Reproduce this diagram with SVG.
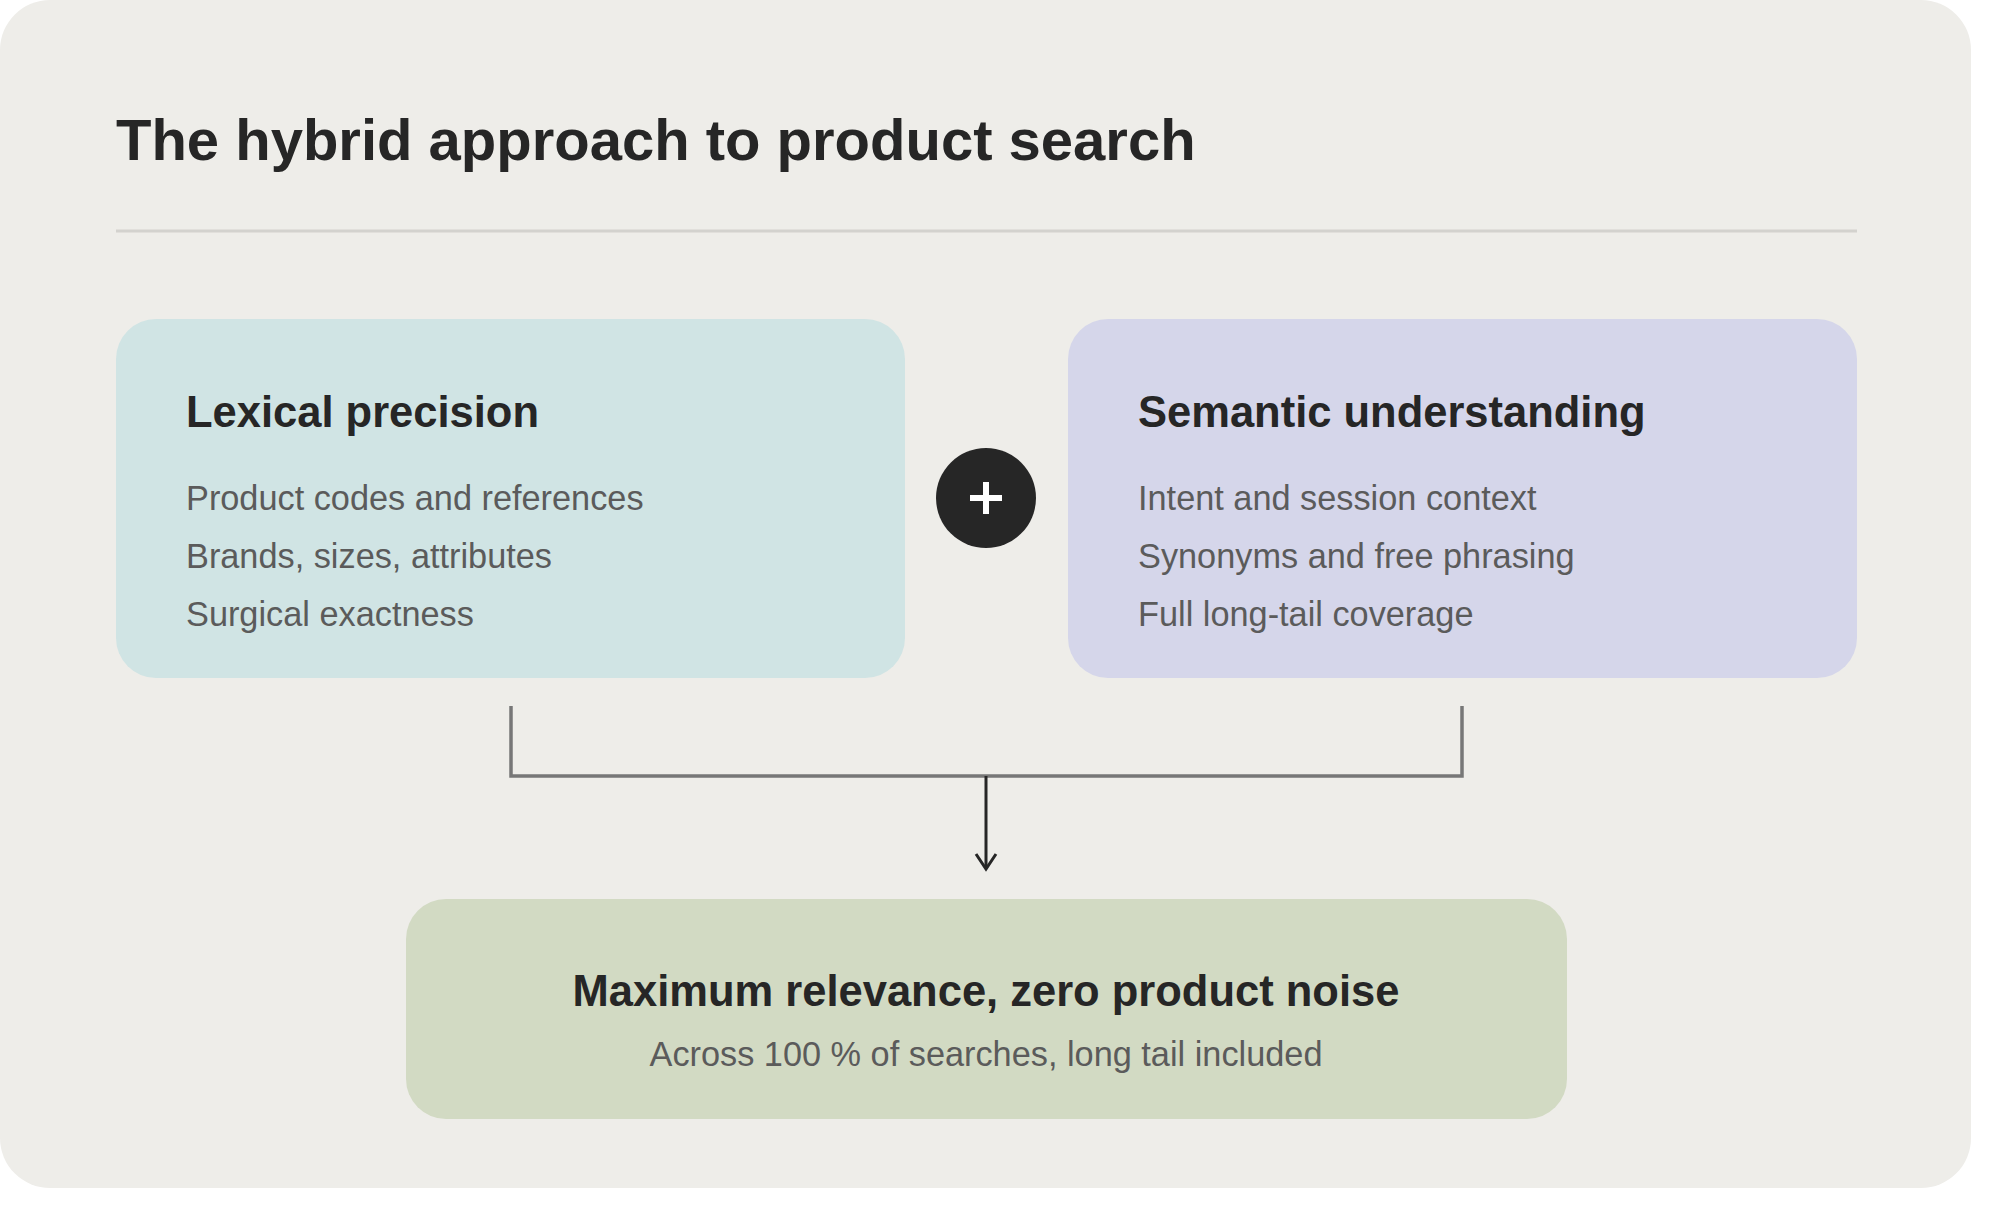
<svg xmlns="http://www.w3.org/2000/svg" width="2000" height="1217" viewBox="0 0 2000 1217">
<style>
text{font-family:"Liberation Sans",Arial,sans-serif}
.h{font-weight:bold;font-size:43.5px;fill:#262626}
.i{font-size:34.3px;fill:#5b5b5b}
.c{fill:none;stroke:#777;stroke-width:3.5}
</style>
<rect width="2000" height="1217" fill="#fff"/>
<rect x="0" y="0" width="1971" height="1188" rx="50" fill="#EEEDE9"/>
<text x="116" y="160" style="font-weight:bold;font-size:58px;fill:#262626">The hybrid approach to product search</text>
<line x1="116" y1="231" x2="1857" y2="231" stroke="#d3d2ce" stroke-width="3"/>
<g id="lexical"><rect x="116" y="319" width="789" height="359" rx="40" fill="#D0E4E4"/>
<text class="h" x="186" y="427">Lexical precision</text>
<text class="i" x="186" y="510">Product codes and references</text>
<text class="i" x="186" y="568">Brands, sizes, attributes</text>
<text class="i" x="186" y="626">Surgical exactness</text></g>
<g id="plus"><circle cx="986" cy="498" r="50" fill="#262626"/><path d="M986,482V514M970,498H1002" stroke="#fff" stroke-width="6"/></g>
<g id="semantic"><rect x="1068" y="319" width="789" height="359" rx="40" fill="#D5D6EA"/>
<text class="h" x="1138" y="427">Semantic understanding</text>
<text class="i" x="1138" y="510">Intent and session context</text>
<text class="i" x="1138" y="568">Synonyms and free phrasing</text>
<text class="i" x="1138" y="626">Full long-tail coverage</text></g>
<g id="connectors">
<path class="c" d="M511,706V776H1462V706"/>
<line x1="986" y1="776" x2="986" y2="868" stroke="#262626" stroke-width="3"/>
<path d="M976,854L986,869L996,854" fill="none" stroke="#262626" stroke-width="3"/>
</g>
<g id="result"><rect x="406" y="899" width="1161" height="220" rx="40" fill="#D2DAC3"/>
<text class="h" x="986" y="1006" text-anchor="middle">Maximum relevance, zero product noise</text>
<text class="i" x="986" y="1066" text-anchor="middle">Across 100 % of searches, long tail included</text></g>
</svg>
